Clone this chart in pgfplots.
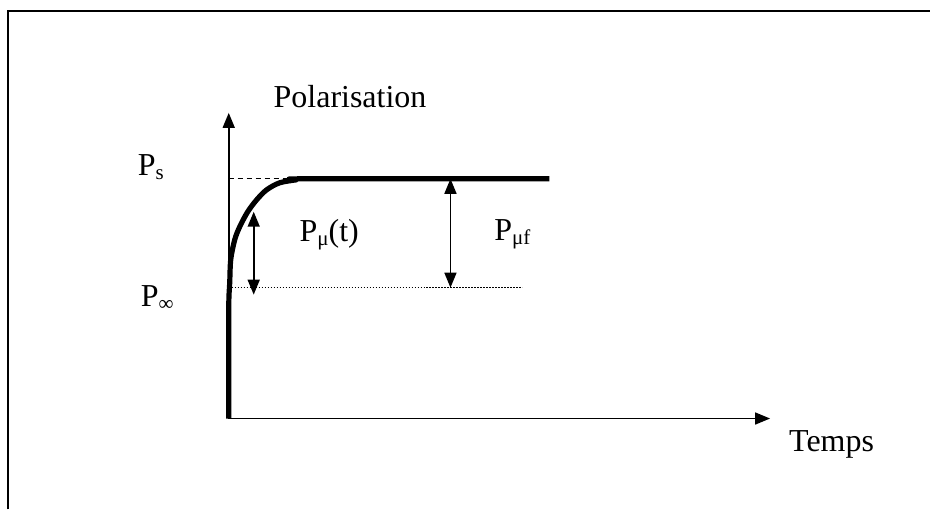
\documentclass[border=0pt]{standalone}
\usepackage{fontspec}
\setmainfont{Liberation Serif}
\usepackage{pgfplots}
\pgfplotsset{compat=1.18}
\usetikzlibrary{arrows.meta}
\newcommand\sub[1]{\raisebox{-2pt}{\fontsize{10.5}{12}\selectfont #1}}
\tikzset{lbl/.style={inner sep=0pt, outer sep=0pt, font=\fontsize{16}{19}\selectfont}}
\begin{document}
\fontsize{16}{19}\selectfont
\begin{tikzpicture}
\begin{axis}[
  x=0.5pt, y=0.5pt,
  xmin=0, xmax=931, ymin=0, ymax=510,
  hide axis, clip=false,
]
% bounding box
\addplot[draw=none] coordinates {(0,0) (931,510)};
% frame
\addplot[black, line width=1.1pt] coordinates {(8,0) (8,499) (931,499)};
% axes
\addplot[black, line width=0.8pt, -{Triangle[width=6pt,length=7.5pt]}] coordinates {(229,91) (229,397)};
\addplot[black, line width=0.8pt, -{Triangle[width=6pt,length=7.5pt]}] coordinates {(229,91) (771,91)};
% reference levels
\addplot[black, line width=0.6pt, dash pattern=on 2.5pt off 2pt] coordinates {(229,331) (292,331)};
\addplot[black, line width=0.6pt, dash pattern=on 0.6pt off 0.9pt] coordinates {(229,222) (523,222)};
% polarisation curve
\addplot[black, line width=2.6pt, line join=round, smooth, tension=0.5] coordinates {
  (229,91) (229,200) (230,227) (231,250) (235,270) (240,283) (248,298)
  (257,310) (267,320) (280,327) (297,330) (307,331) (550,331)};
% double arrows
\addplot[black, line width=0.8pt, {Triangle[width=6pt,length=7.5pt]}-{Triangle[width=6pt,length=7.5pt]}] coordinates {(254,215) (254,298)};
\addplot[black, line width=0.8pt, {Triangle[width=6pt,length=7.5pt]}-{Triangle[width=6pt,length=7.5pt]}] coordinates {(451,222) (451,331)};
% labels
\node[lbl, anchor=base west] at (axis cs:274,402) {Polarisation};
\node[lbl, anchor=base west] at (axis cs:138,334) {P\sub{s}};
\node[lbl, anchor=base west] at (axis cs:141,203) {P\sub{∞}};
\node[lbl, anchor=base west] at (axis cs:300,268) {P\sub{μ}(t)};
\node[lbl, anchor=base west] at (axis cs:495,269) {P\sub{μf}};
\node[lbl, anchor=base east] at (axis cs:875,58) {Temps};
\end{axis}
\end{tikzpicture}
\end{document}
